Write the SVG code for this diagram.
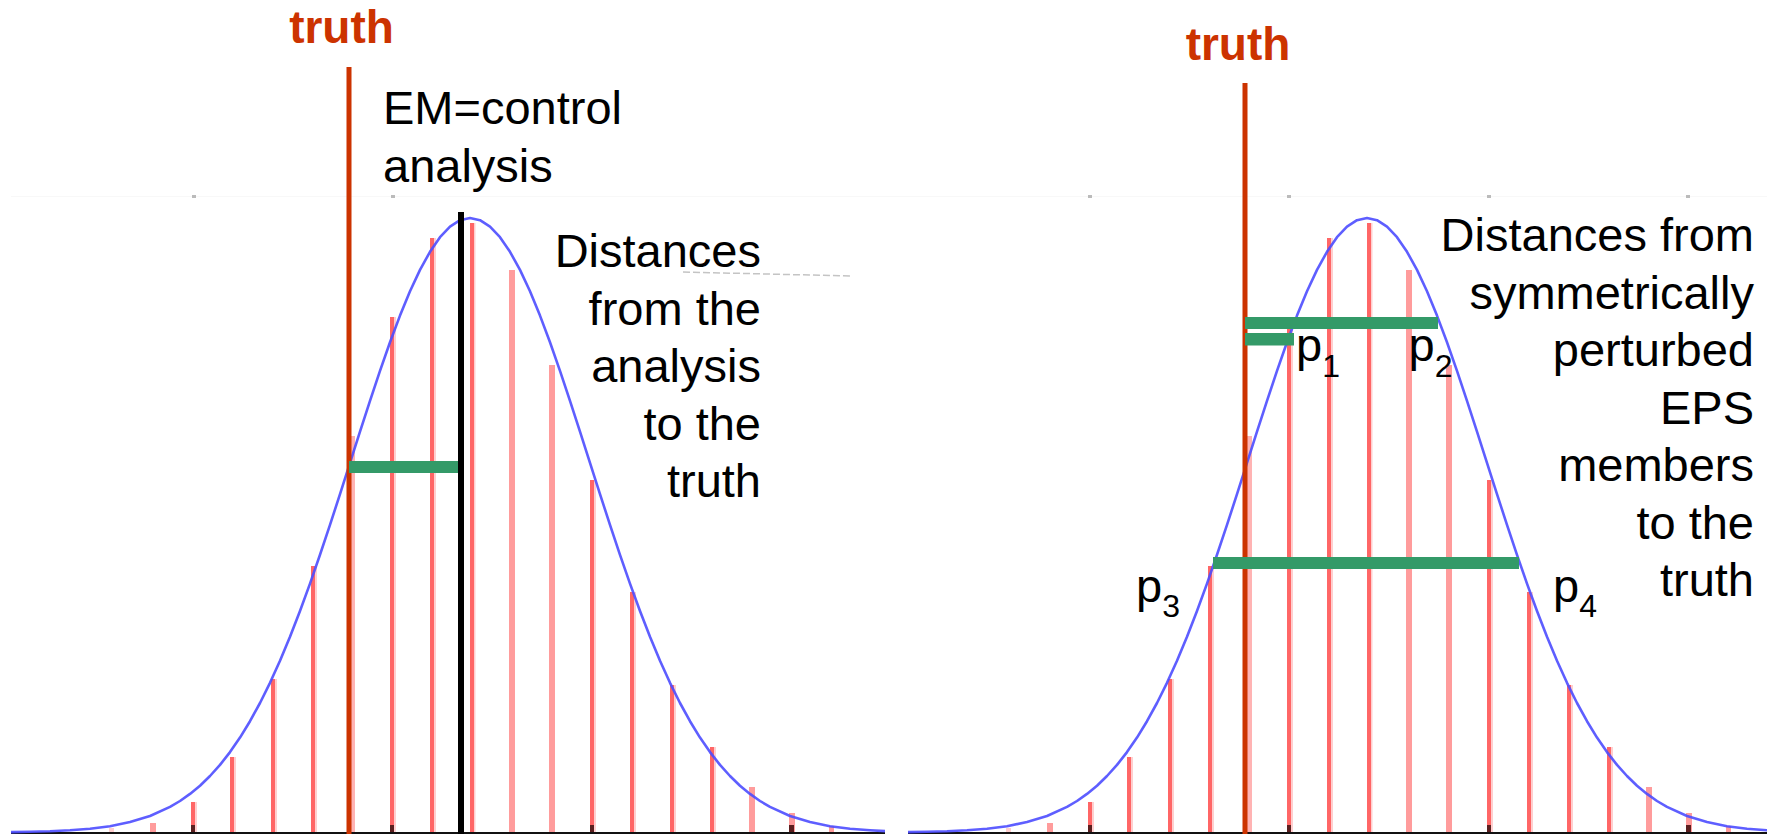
<svg xmlns="http://www.w3.org/2000/svg" xmlns:xlink="http://www.w3.org/1999/xlink" width="1767" height="834" viewBox="0 0 1767 834">
<style>
 .lbl{font-family:"Liberation Sans",Arial,sans-serif;font-size:47px;fill:#000}
 .end{text-anchor:end}
 .sub{font-size:32px}
 .truth{font-family:"Liberation Sans",Arial,sans-serif;font-size:46px;font-weight:bold;fill:#CC3300;text-anchor:middle}
 .bar{fill:#FF6666}
 .fr{fill:#FFCFCF}
 .pk{fill:#FF9C9C}
 .tk{fill:#5b1f1f}
 .dot{fill:#bbbbbb}
 .curve{fill:none;stroke:#4d4dff;stroke-width:2.6;stroke-linejoin:round;stroke-opacity:0.9}
 .axis{stroke:#111;stroke-width:2}
 .tl{stroke:#CC3300;stroke-width:5}
 .gb{fill:#349A68}
</style>
<defs>
 <g id="dist">
  <line class="axis" x1="11" y1="833" x2="885" y2="833"/>
  <g id="bars">
   <rect class="fr" x="109" y="828" width="5" height="4"/>
   <rect class="pk" x="150" y="823" width="6" height="9"/>
   <rect class="bar" x="191" y="802" width="4" height="30"/><rect class="fr" x="195" y="802" width="2" height="30"/>
   <rect class="bar" x="230" y="757" width="4" height="75"/><rect class="fr" x="234" y="757" width="2" height="75"/>
   <rect class="bar" x="271" y="679" width="4" height="153"/><rect class="fr" x="275" y="679" width="2" height="153"/>
   <rect class="bar" x="311" y="566" width="4" height="266"/><rect class="fr" x="315" y="566" width="2" height="266"/>
   <rect fill="#FFB3B3" x="350" y="436" width="5" height="396"/>
   <rect class="bar" x="390" y="317" width="4" height="515"/><rect class="fr" x="394" y="317" width="2" height="515"/>
   <rect class="bar" x="430" y="238" width="4" height="594"/><rect class="fr" x="434" y="238" width="2" height="594"/>
   <rect class="bar" x="470" y="223" width="4" height="609"/><rect class="fr" x="474" y="223" width="1.5" height="609"/>
   <rect class="pk" x="509" y="270" width="6" height="562"/>
   <rect class="pk" x="549" y="365" width="6" height="467"/>
   <rect class="bar" x="590" y="480" width="4" height="352"/><rect class="fr" x="594" y="480" width="2" height="352"/>
   <rect class="bar" x="630" y="592" width="4" height="240"/><rect class="fr" x="634" y="592" width="2" height="240"/>
   <rect class="bar" x="670" y="685" width="4" height="147"/><rect class="fr" x="674" y="685" width="2" height="147"/>
   <rect class="bar" x="710" y="747" width="4" height="85"/><rect class="fr" x="714" y="747" width="2" height="85"/>
   <rect class="pk" x="749" y="787" width="6" height="45"/>
   <rect class="pk" x="789" y="813" width="6" height="19"/>
   <rect class="pk" x="829" y="826" width="5" height="6"/>
  </g>
  <rect class="tk" x="191" y="825" width="4" height="7"/>
  <rect class="tk" x="390" y="825" width="4" height="7"/>
  <rect class="tk" x="590" y="825" width="4" height="7"/>
  <rect class="tk" x="789" y="825" width="5" height="7"/>
  <polyline class="curve" points="11,832.1 30,831.8 50,831.3 70,830.3 90,828.8 110,826.2 130,822.1 150,816 170,806.9 180,801 190,793.9 200,785.7 210,776 220,764.9 230,752.1 240,737.6 250,721.2 260,703 270,682.8 280,660.7 290,636.8 300,611 310,583.6 320,554.8 330,524.9 340,494.1 350,462.9 360,431.6 370,400.8 380,370.9 390,342.3 400,315.6 410,291.3 420,269.9 430,251.8 440,237.2 450,226.6 460,220.2 470,218 480,220.2 490,226.6 500,237.2 510,251.8 520,269.9 530,291.3 540,315.6 550,342.3 560,370.9 570,400.8 580,431.6 590,462.9 600,494.1 610,524.9 620,554.8 630,583.6 640,611 650,636.8 660,660.7 670,682.8 680,703 690,721.2 700,737.6 710,752.1 720,764.9 730,776 740,785.7 750,793.9 760,801 770,806.9 790,816 810,822.1 830,826.2 850,828.8 870,830.3 885,831.1"/>
 </g>
</defs>

<line x1="11" y1="196.5" x2="1767" y2="196.5" stroke="#f8f8f8" stroke-width="1"/>

<g id="left-panel">
 <use xlink:href="#dist" href="#dist"/>
 <rect class="dot" x="192" y="195" width="4" height="3"/>
 <rect class="dot" x="391" y="195" width="4" height="3"/>
 <line x1="683" y1="272" x2="850" y2="276" stroke="#c4c4c4" stroke-width="1.5" stroke-dasharray="7 3"/>
 <line class="tl" x1="349" y1="67" x2="349" y2="834"/>
 <line x1="461" y1="212" x2="461" y2="834" stroke="#000" stroke-width="6"/>
 <rect class="gb" x="349" y="461" width="109" height="12"/>
 <text class="truth" x="341.5" y="43">truth</text>
 <text class="lbl" x="383" y="124">EM=control</text>
 <text class="lbl" x="383" y="182">analysis</text>
 <text class="lbl end" x="761" y="267">Distances</text>
 <text class="lbl end" x="761" y="324.5">from the</text>
 <text class="lbl end" x="761" y="382">analysis</text>
 <text class="lbl end" x="761" y="439.5">to the</text>
 <text class="lbl end" x="761" y="497">truth</text>
</g>

<g id="right-panel">
 <use xlink:href="#dist" href="#dist" x="897"/>
 <rect class="dot" x="1088" y="195" width="4" height="3"/>
 <rect class="dot" x="1287" y="195" width="4" height="3"/>
 <rect class="dot" x="1487" y="195" width="4" height="3"/>
 <rect class="dot" x="1686" y="195" width="4" height="3"/>
 <line class="tl" x1="1245" y1="83" x2="1245" y2="834"/>
 <rect class="gb" x="1245" y="317" width="193" height="12"/>
 <rect class="gb" x="1245" y="333" width="49" height="12.5"/>
 <rect class="gb" x="1213" y="557" width="306" height="12"/>
 <text class="truth" x="1238" y="60">truth</text>
 <text class="lbl" x="1296" y="361">p<tspan class="sub" dy="15.5">1</tspan></text>
 <text class="lbl" x="1408.5" y="361">p<tspan class="sub" dy="15.5">2</tspan></text>
 <text class="lbl" x="1136" y="602">p<tspan class="sub" dy="15">3</tspan></text>
 <text class="lbl" x="1553" y="602">p<tspan class="sub" dy="15">4</tspan></text>
 <text class="lbl end" x="1754" y="251">Distances from</text>
 <text class="lbl end" x="1754" y="308.5">symmetrically</text>
 <text class="lbl end" x="1754" y="366">perturbed</text>
 <text class="lbl end" x="1754" y="423.5">EPS</text>
 <text class="lbl end" x="1754" y="481">members</text>
 <text class="lbl end" x="1754" y="538.5">to the</text>
 <text class="lbl end" x="1754" y="596">truth</text>
</g>
</svg>
